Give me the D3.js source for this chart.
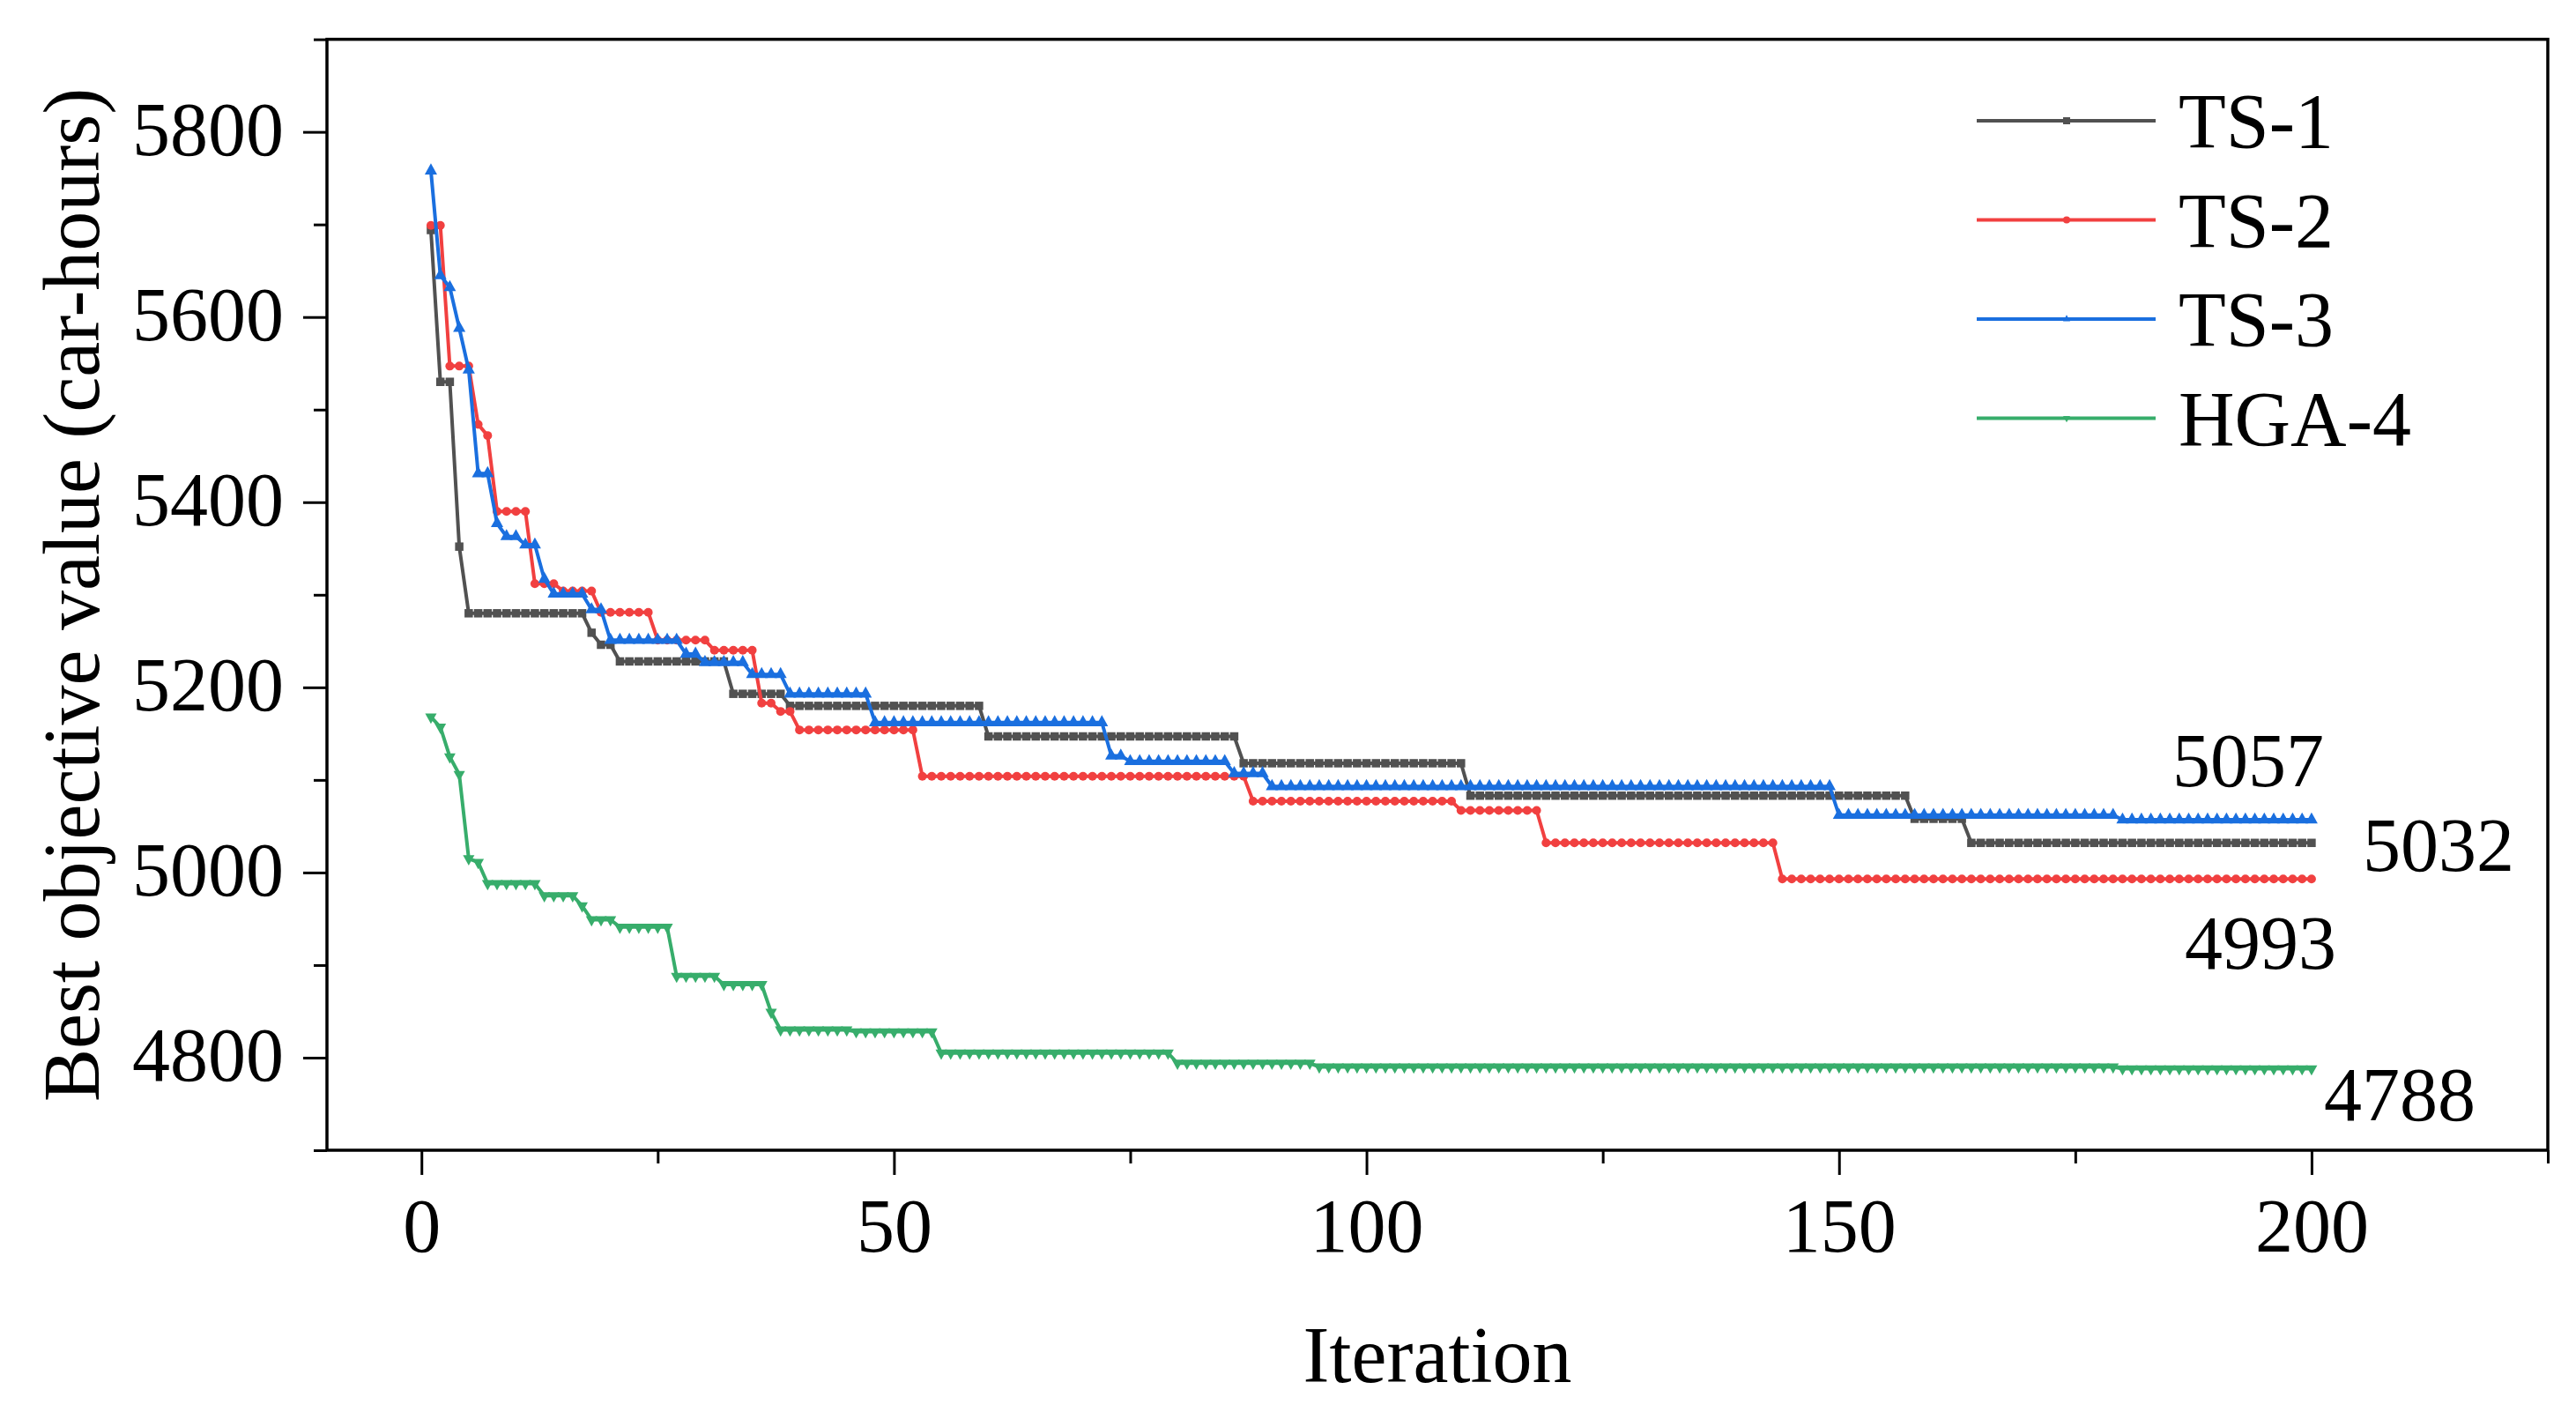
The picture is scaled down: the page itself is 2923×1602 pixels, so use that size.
<!DOCTYPE html>
<html>
<head>
<meta charset="utf-8">
<script src="https://cdnjs.cloudflare.com/ajax/libs/d3/7.8.5/d3.min.js"></script>
<style>
  body { margin: 0; background: #fff; }
  svg text { font-family: "Liberation Serif", "Times New Roman", serif; fill: #000; }
</style>
</head>
<body>
<div id="chart"></div>
<script>
// Series names and colours (Origin default palette)
const seriesNames = ["TS-1", "TS-2", "TS-3", "HGA-4"];
const seriesColors = ["#515151", "#F14040", "#1A6FDF", "#37AD6B"];
const seriesSymbols = ["square", "circle", "triangleUp", "triangleDown"];

// Best objective value so far: [first iteration of the step, value]
const ts1Steps = [[1, 5694], [2, 5530], [4, 5352], [5, 5280], [18, 5259], [19, 5246], [21, 5228],
  [33, 5193], [39, 5180], [60, 5147], [87, 5118], [111, 5083], [158, 5058], [164, 5032]];
const ts2Steps = [[1, 5699], [3, 5547], [6, 5484], [7, 5472], [8, 5390], [12, 5312], [15, 5304],
  [19, 5281], [25, 5251], [31, 5240], [36, 5183], [38, 5174], [40, 5154], [53, 5104], [88, 5077],
  [110, 5067], [119, 5032], [144, 4993]];
const ts3Steps = [[1, 5758], [2, 5645], [3, 5632], [4, 5588], [5, 5543], [6, 5431], [8, 5377],
  [9, 5363], [11, 5354], [13, 5317], [14, 5301], [18, 5284], [20, 5251], [28, 5236], [30, 5227],
  [35, 5214], [39, 5193], [48, 5162], [73, 5126], [75, 5120], [86, 5107], [90, 5093], [150, 5062],
  [180, 5057]];
const hga4Steps = [[1, 5168], [2, 5157], [3, 5125], [4, 5106], [5, 5015], [6, 5011], [7, 4988],
  [13, 4975], [17, 4964], [18, 4949], [21, 4941], [27, 4888], [32, 4879], [37, 4849], [38, 4830],
  [46, 4828], [55, 4805], [80, 4794], [95, 4790], [180, 4788]];

const iterationCount = 200;
const xTicks = [0, 50, 100, 150, 200];
const xMinorTicks = [25, 75, 125, 175, 225];
const yTicks = [4800, 5000, 5200, 5400, 5600, 5800];
const yMinorTicks = [4700, 4900, 5100, 5300, 5500, 5700, 5900];
const finalLabels = ["5057", "5032", "4993", "4788"];
const finalValues = [5057, 5032, 4993, 4788];

const W = 2923, H = 1602;
const plot = { left: 371, right: 2891, top: 44.6, bottom: 1305 };

const svg = d3.select("#chart")
  .append("svg")
  .attr("width", W)
  .attr("height", H)
  .attr("viewBox", `0 0 ${W} ${H}`);

svg.append("rect").attr("width", W).attr("height", H).attr("fill", "#fff");

const x = d3.scaleLinear().domain([-10, 225]).range([plot.left, plot.right]);
const y = d3.scaleLinear().domain([4700, 5900]).range([plot.bottom, plot.top]);

// step list -> one value per iteration
function expand(steps) {
  const out = [];
  let k = 0;
  for (let it = 1; it <= iterationCount; it++) {
    while (k + 1 < steps.length && steps[k + 1][0] <= it) k++;
    out.push({ it: it, v: steps[k][1] });
  }
  return out;
}
const allSteps = [ts1Steps, ts2Steps, ts3Steps, hga4Steps];
const series = allSteps.map((s, i) => ({
  name: seriesNames[i], color: seriesColors[i], symbol: seriesSymbols[i], values: expand(s)
}));

// marker paths (triangles centred on their centroid)
function markerPath(type, s) {
  const h = s / 2;
  if (type === "square") return `M${-h},${-h}h${s}v${s}h${-s}Z`;
  if (type === "circle") return `M${-h},0a${h},${h} 0 1,0 ${s},0a${h},${h} 0 1,0 ${-s},0Z`;
  const th = s * 0.9, a = th * 2 / 3, b = th / 3, w = s / 2;
  if (type === "triangleUp") return `M0,${-a}L${w},${b}L${-w},${b}Z`;
  return `M0,${a}L${w},${-b}L${-w},${-b}Z`;
}
const markerSize = { square: 9.5, circle: 10, triangleUp: 14, triangleDown: 13 };

// Axes
const axisStroke = 3.5;
const xAxis = svg.append("g")
  .attr("transform", `translate(0,${plot.bottom})`)
  .call(d3.axisBottom(x).tickValues(xTicks).tickSize(28).tickFormat(d3.format("d")));
xAxis.select(".domain").remove();
xAxis.selectAll(".tick line").attr("stroke", "#000").attr("stroke-width", 3);
xAxis.selectAll(".tick text")
  .attr("y", 115).attr("dy", 0)
  .style("font-size", "86px");

const xMinor = svg.append("g")
  .attr("transform", `translate(0,${plot.bottom})`)
  .call(d3.axisBottom(x).tickValues(xMinorTicks).tickSize(15).tickFormat(""));
xMinor.select(".domain").remove();
xMinor.selectAll(".tick line").attr("stroke", "#000").attr("stroke-width", 3);

const yAxis = svg.append("g")
  .attr("transform", `translate(${plot.left},0)`)
  .call(d3.axisLeft(y).tickValues(yTicks).tickSize(27).tickPadding(22).tickFormat(d3.format("d")));
yAxis.select(".domain").remove();
yAxis.selectAll(".tick line").attr("stroke", "#000").attr("stroke-width", 3);
yAxis.selectAll(".tick text")
  .attr("dy", "0.3em")
  .style("font-size", "86px");

const yMinor = svg.append("g")
  .attr("transform", `translate(${plot.left},0)`)
  .call(d3.axisLeft(y).tickValues(yMinorTicks).tickSize(15).tickFormat(""));
yMinor.select(".domain").remove();
yMinor.selectAll(".tick line").attr("stroke", "#000").attr("stroke-width", 3);

// frame
svg.append("rect")
  .attr("x", plot.left).attr("y", plot.top)
  .attr("width", plot.right - plot.left).attr("height", plot.bottom - plot.top)
  .attr("fill", "none").attr("stroke", "#000").attr("stroke-width", axisStroke);

// Lines and markers
const line = d3.line().x(d => x(d.it)).y(d => y(d.v));
series.forEach(s => {
  const g = svg.append("g");
  g.append("path")
    .datum(s.values)
    .attr("d", line)
    .attr("fill", "none")
    .attr("stroke", s.color)
    .attr("stroke-width", 4);
  g.selectAll("path.mk")
    .data(s.values)
    .enter()
    .append("path")
    .attr("class", "mk")
    .attr("transform", d => `translate(${x(d.it)},${y(d.v)})`)
    .attr("d", markerPath(s.symbol, markerSize[s.symbol]))
    .attr("fill", s.color);
});

// Final value labels
const labelLayout = [
  { dx: 14, dy: -38, anchor: "end" },
  { dx: 58, dy: 32, anchor: "start" },
  { dx: 28, dy: 102, anchor: "end" },
  { dx: 14, dy: 58, anchor: "start" }
];
finalLabels.forEach((t, i) => {
  svg.append("text")
    .attr("x", x(iterationCount) + labelLayout[i].dx)
    .attr("y", y(finalValues[i]) + labelLayout[i].dy)
    .attr("text-anchor", labelLayout[i].anchor)
    .style("font-size", "86px")
    .text(t);
});

// Legend
const legend = svg.append("g").attr("transform", "translate(2243,137)");
series.forEach((s, i) => {
  const row = legend.append("g").attr("transform", `translate(0,${i * 112.5})`);
  row.append("line")
    .attr("x1", 0).attr("x2", 203)
    .attr("stroke", s.color).attr("stroke-width", 4);
  row.append("path")
    .attr("transform", "translate(102,0)")
    .attr("d", markerPath(s.symbol, 8))
    .attr("fill", s.color);
  row.append("text")
    .attr("x", 229).attr("y", 30)
    .style("font-size", "88px")
    .text(s.name);
});

// Axis titles
svg.append("text")
  .attr("x", (plot.left + plot.right) / 2)
  .attr("y", 1568)
  .attr("text-anchor", "middle")
  .style("font-size", "90px")
  .text("Iteration");

svg.append("text")
  .attr("transform", `translate(112,${(plot.top + plot.bottom) / 2}) rotate(-90)`)
  .attr("text-anchor", "middle")
  .style("font-size", "90px")
  .text("Best objective value (car-hours)");
</script>
</body>
</html>
